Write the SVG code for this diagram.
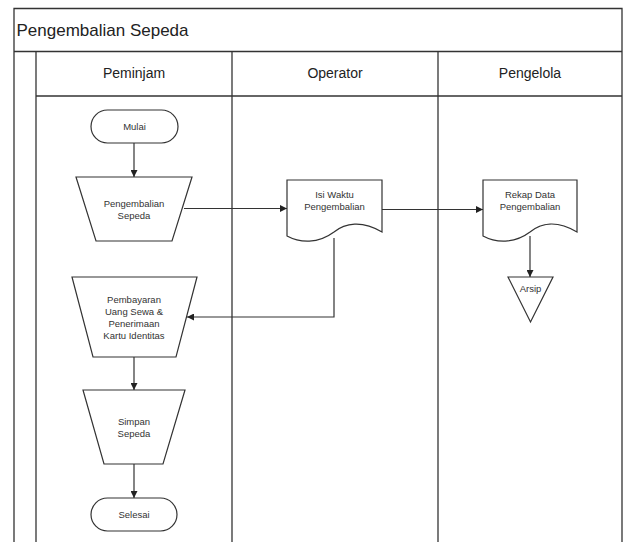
<svg xmlns="http://www.w3.org/2000/svg" width="626" height="542" viewBox="0 0 626 542">
<style>
.frame{fill:none;stroke:#333;stroke-width:1.3}
.shape{fill:#fff;stroke:#333;stroke-width:1.2}
.conn{fill:none;stroke:#333;stroke-width:1.2}
.t{font-family:"Liberation Sans",Arial,sans-serif;font-size:9.5px;fill:#333;text-anchor:middle}
.h{font-family:"Liberation Sans",Arial,sans-serif;font-size:14px;fill:#222;text-anchor:middle}
.title{font-family:"Liberation Sans",Arial,sans-serif;font-size:17px;fill:#222}
</style>
<defs>
<marker id="arr" viewBox="0 0 10 10" refX="10" refY="5" markerWidth="7" markerHeight="7" markerUnits="userSpaceOnUse" orient="auto">
<path d="M0,0 L10,5 L0,10 Z" fill="#222"/>
</marker>
</defs>
<rect width="626" height="542" fill="#fff"/>
<g id="pool">
<path class="frame" d="M14,542 V8.5 H622 V542"/>
<line class="frame" x1="14" y1="51.5" x2="622" y2="51.5"/>
<line class="frame" x1="36" y1="51.5" x2="36" y2="542"/>
<line class="frame" x1="36" y1="96" x2="622" y2="96"/>
<line class="frame" x1="232" y1="51.5" x2="232" y2="542"/>
<line class="frame" x1="438" y1="51.5" x2="438" y2="542"/>
<text class="title" x="16.5" y="35.5">Pengembalian Sepeda</text>
<text class="h" x="134" y="78">Peminjam</text>
<text class="h" x="335" y="78">Operator</text>
<text class="h" x="530" y="78">Pengelola</text>
</g>
<g id="connectors">
<line class="conn" x1="134" y1="143" x2="134" y2="177" marker-end="url(#arr)"/>
<line class="conn" x1="184" y1="208.5" x2="287" y2="208.5" marker-end="url(#arr)"/>
<line class="conn" x1="382" y1="209.5" x2="483" y2="209.5" marker-end="url(#arr)"/>
<polyline class="conn" points="334,238 334,317 187,317" marker-end="url(#arr)"/>
<line class="conn" x1="530" y1="236" x2="530" y2="277" marker-end="url(#arr)"/>
<line class="conn" x1="134" y1="357" x2="134" y2="390" marker-end="url(#arr)"/>
<line class="conn" x1="134" y1="464" x2="134" y2="498" marker-end="url(#arr)"/>
</g>
<g id="mulai">
<rect class="shape" x="91" y="110" width="87" height="33" rx="16.5"/>
<text class="t" x="134.5" y="130">Mulai</text>
</g>
<g id="pengembalian">
<path class="shape" d="M76,177 H192 L172,241 H96 Z"/>
<text class="t" x="134" y="207">Pengembalian</text>
<text class="t" x="134" y="219">Sepeda</text>
</g>
<g id="isiwaktu">
<path class="shape" d="M287,180 H382 V232 C362,220 345,223 334,232 C318,244 300,243 287,236 Z"/>
<text class="t" x="334.5" y="198">Isi Waktu</text>
<text class="t" x="334.5" y="210">Pengembalian</text>
</g>
<g id="rekap">
<path class="shape" d="M483,180 H577 V232 C557,220 541,223 530,232 C514,244 496,243 483,236 Z"/>
<text class="t" x="530" y="198">Rekap Data</text>
<text class="t" x="530" y="210">Pengembalian</text>
</g>
<g id="arsip">
<path class="shape" d="M508,277 H553 L530.5,322 Z"/>
<text class="t" x="530.5" y="292">Arsip</text>
</g>
<g id="pembayaran">
<path class="shape" d="M72,277 H197 L176,357 H93 Z"/>
<text class="t" x="134" y="303">Pembayaran</text>
<text class="t" x="134" y="315">Uang Sewa &amp;</text>
<text class="t" x="134" y="327">Penerimaan</text>
<text class="t" x="134" y="339">Kartu Identitas</text>
</g>
<g id="simpan">
<path class="shape" d="M83,390 H185 L163,464 H104 Z"/>
<text class="t" x="134" y="425">Simpan</text>
<text class="t" x="134" y="437">Sepeda</text>
</g>
<g id="selesai">
<rect class="shape" x="91" y="498" width="86" height="33" rx="16.5"/>
<text class="t" x="134" y="518">Selesai</text>
</g>
</svg>
